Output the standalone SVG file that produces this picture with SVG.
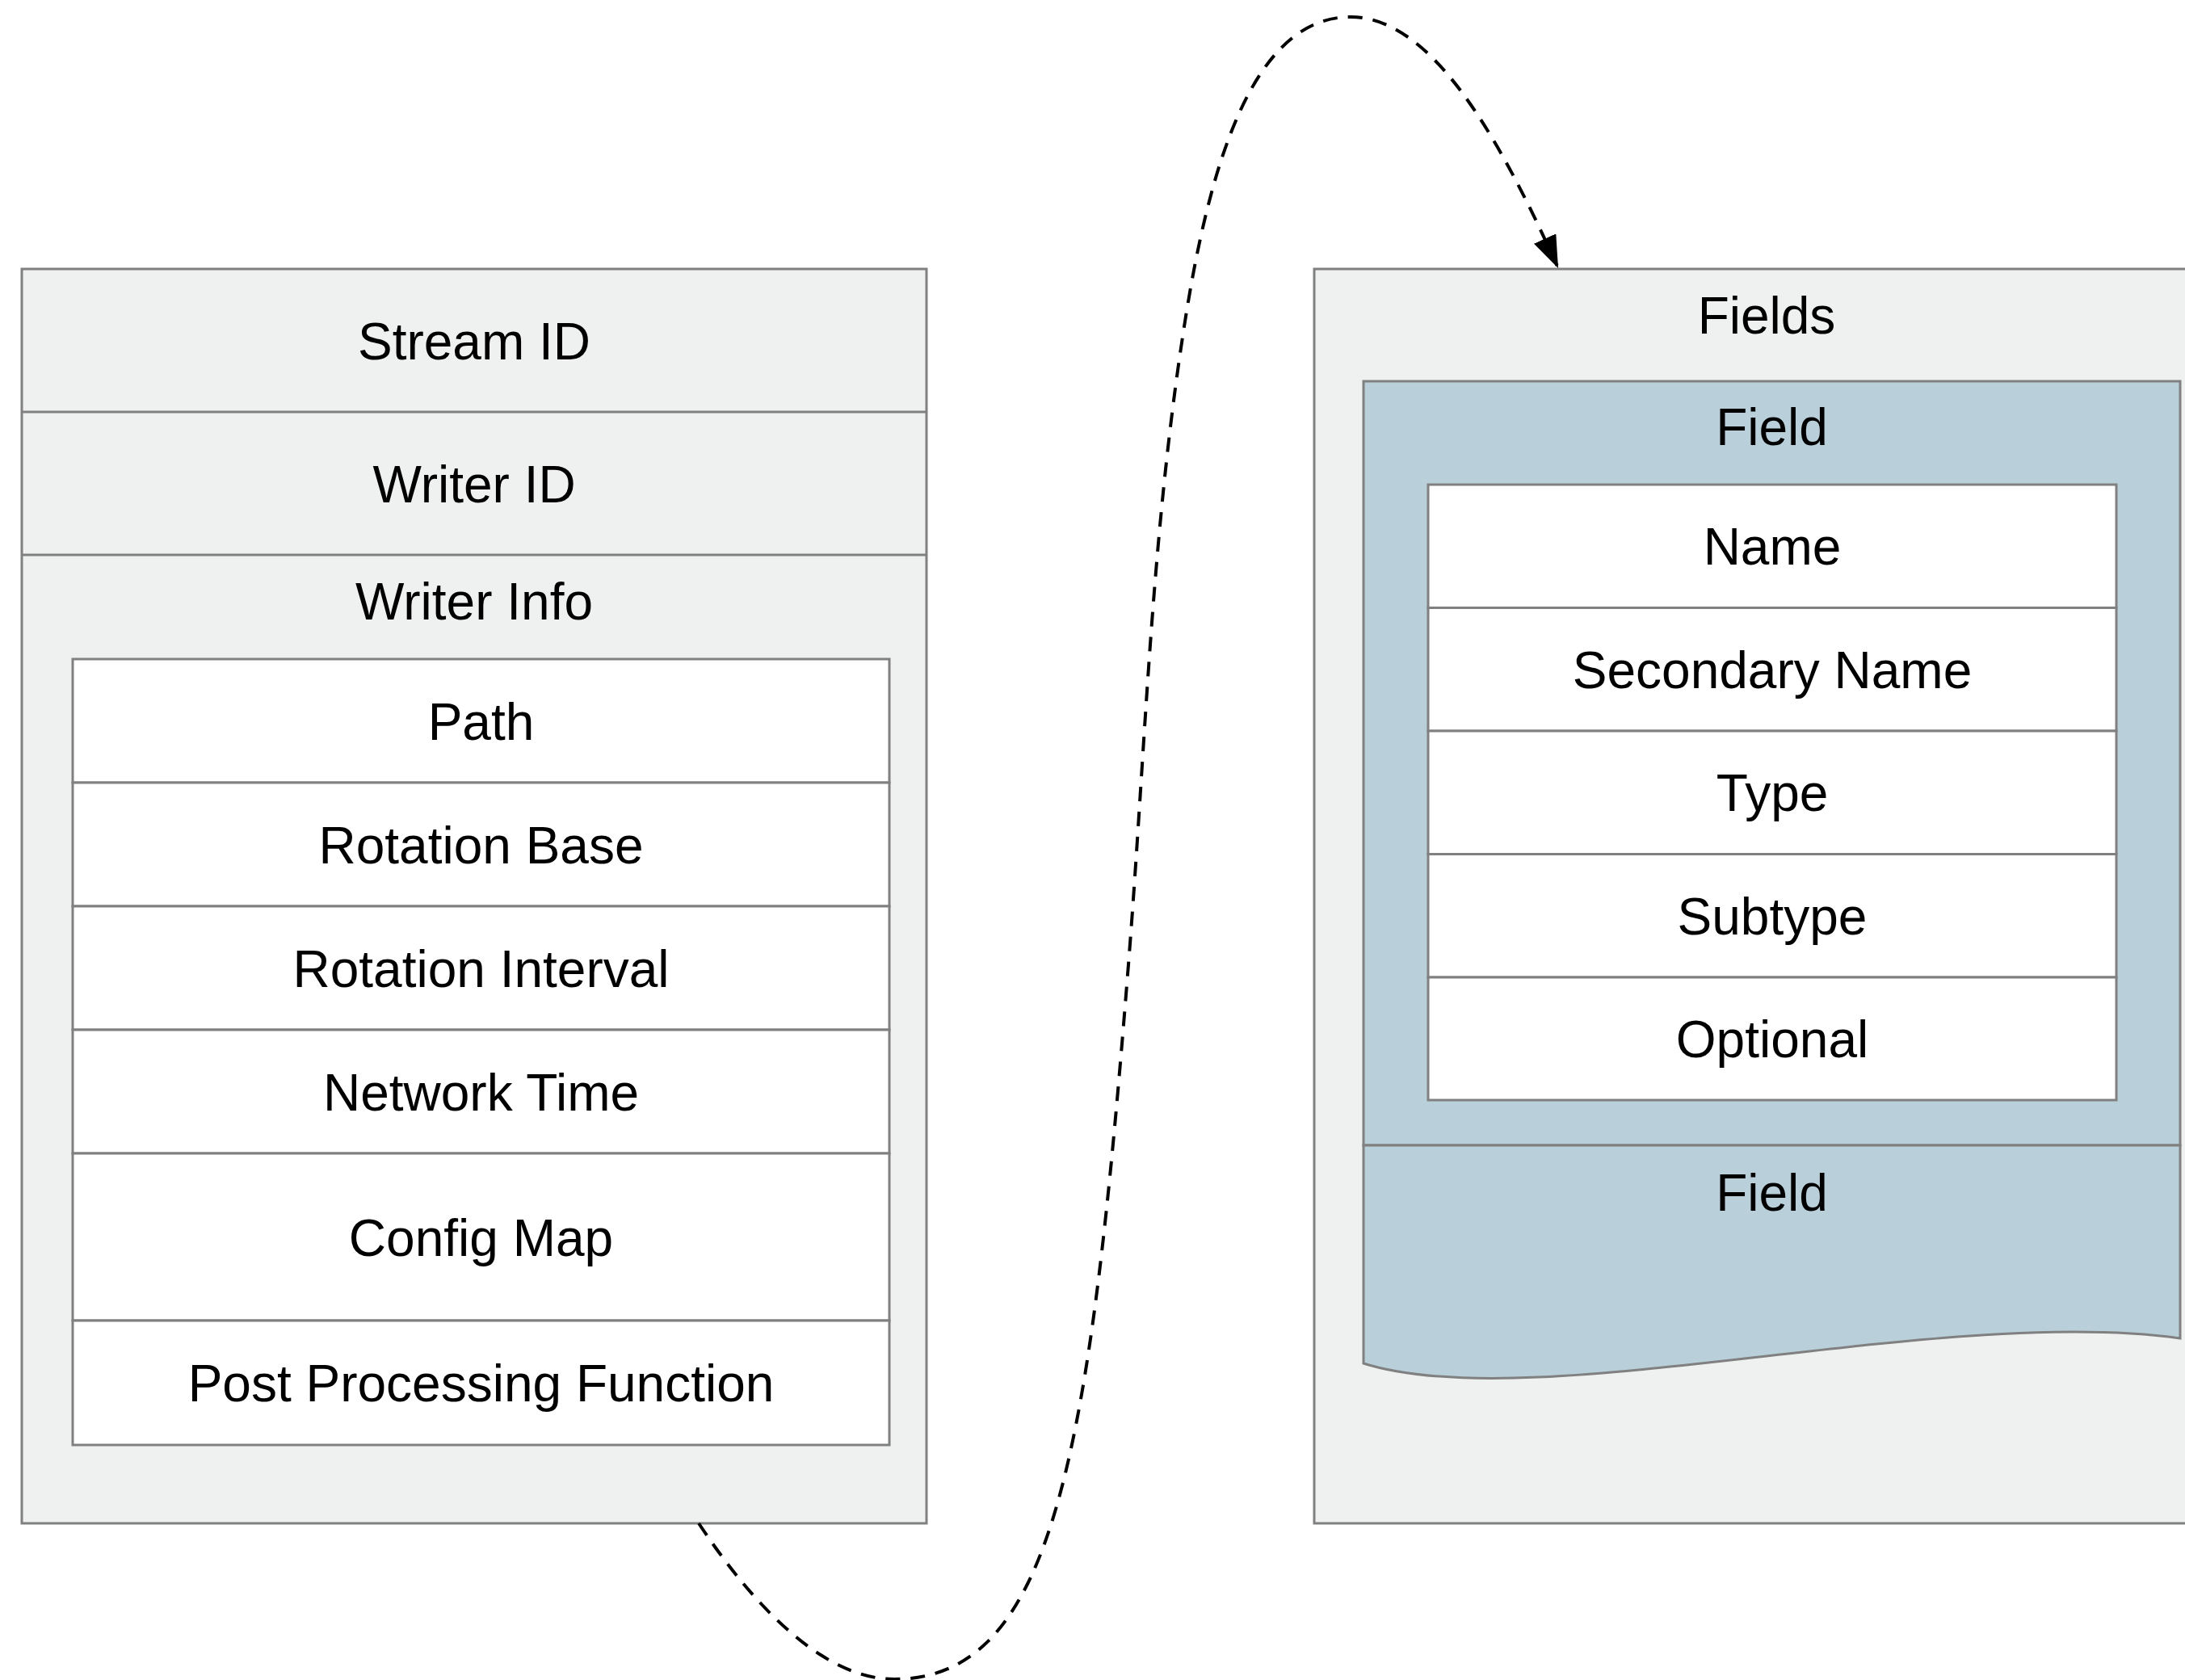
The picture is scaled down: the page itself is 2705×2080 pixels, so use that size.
<svg xmlns="http://www.w3.org/2000/svg" width="2705" height="2080" viewBox="0 0 2705 2080">
  <style>
    .outer{fill:#EFF1F0;stroke:#808080;stroke-width:3}
    .field{fill:#B9CFD9;stroke:#808080;stroke-width:3}
    .cell{fill:#FFFFFF;stroke:#808080;stroke-width:3}
    .sep{stroke:#808080;stroke-width:3;fill:none}
    text{font-family:"Liberation Sans",Arial,Helvetica,sans-serif;font-size:64px;fill:#000000;text-anchor:middle}
    .conn{fill:none;stroke:#000000;stroke-width:4;stroke-dasharray:18 13}
  </style>
  <defs>
    <marker id="arrow" markerUnits="userSpaceOnUse" viewBox="0 0 40 30" markerWidth="40" markerHeight="30" refX="40" refY="15" orient="auto">
      <path d="M0,0 L40,15 L0,30 Z" fill="#000000"/>
    </marker>
  </defs>
  <rect width="2705" height="2080" fill="#FFFFFF"/>

  <!-- Writer record -->
  <g id="writer">
    <rect class="outer" x="27" y="333" width="1120" height="1553"/>
    <line class="sep" x1="27" y1="510" x2="1147" y2="510"/>
    <line class="sep" x1="27" y1="687" x2="1147" y2="687"/>
    <text x="587" y="445">Stream ID</text>
    <text x="587" y="622">Writer ID</text>
    <text x="587" y="767">Writer Info</text>
  </g>

  <!-- Writer info table -->
  <g id="writer-info">
    <rect class="cell" x="90" y="816" width="1011" height="153"/>
    <rect class="cell" x="90" y="969" width="1011" height="153"/>
    <rect class="cell" x="90" y="1122" width="1011" height="153"/>
    <rect class="cell" x="90" y="1275" width="1011" height="153"/>
    <rect class="cell" x="90" y="1428" width="1011" height="207"/>
    <rect class="cell" x="90" y="1635" width="1011" height="154"/>
    <text x="595.5" y="916">Path</text>
    <text x="595.5" y="1069">Rotation Base</text>
    <text x="595.5" y="1222">Rotation Interval</text>
    <text x="595.5" y="1375">Network Time</text>
    <text x="595.5" y="1555">Config Map</text>
    <text x="595.5" y="1735">Post Processing Function</text>
  </g>

  <!-- Fields container -->
  <g id="fields">
    <rect class="outer" x="1627" y="333" width="1120" height="1553"/>
    <text x="2187" y="413">Fields</text>
  </g>

  <!-- First field -->
  <g id="field-1">
    <rect class="field" x="1688" y="472" width="1011" height="946"/>
    <text x="2193.5" y="551">Field</text>
    <rect class="cell" x="1768" y="600" width="852" height="152.5"/>
    <rect class="cell" x="1768" y="752.5" width="852" height="152.5"/>
    <rect class="cell" x="1768" y="905" width="852" height="152.5"/>
    <rect class="cell" x="1768" y="1057.5" width="852" height="152.5"/>
    <rect class="cell" x="1768" y="1210" width="852" height="152"/>
    <text x="2194" y="699">Name</text>
    <text x="2194" y="852">Secondary Name</text>
    <text x="2194" y="1004">Type</text>
    <text x="2194" y="1157">Subtype</text>
    <text x="2194" y="1309">Optional</text>
  </g>

  <!-- Second field, torn edge -->
  <g id="field-2">
    <path class="field" d="M1688,1418 L2699,1418 L2699,1657 C2400,1615 1900,1755 1688,1688 Z"/>
    <text x="2193.5" y="1499">Field</text>
  </g>

  <!-- Connectors -->
  <g id="connectors">
    <path class="conn" marker-end="url(#arrow)" d="M865,1886 C914.5,1960.7 1007,2079 1107,2079 C1307,2079 1349.6,1792.2 1397,1194 C1418.3,924.8 1424.9,664.8 1467,398 C1498.2,200.4 1552,21 1672,21 C1772,21 1855,167.8 1929,332"/>
  </g>
</svg>
